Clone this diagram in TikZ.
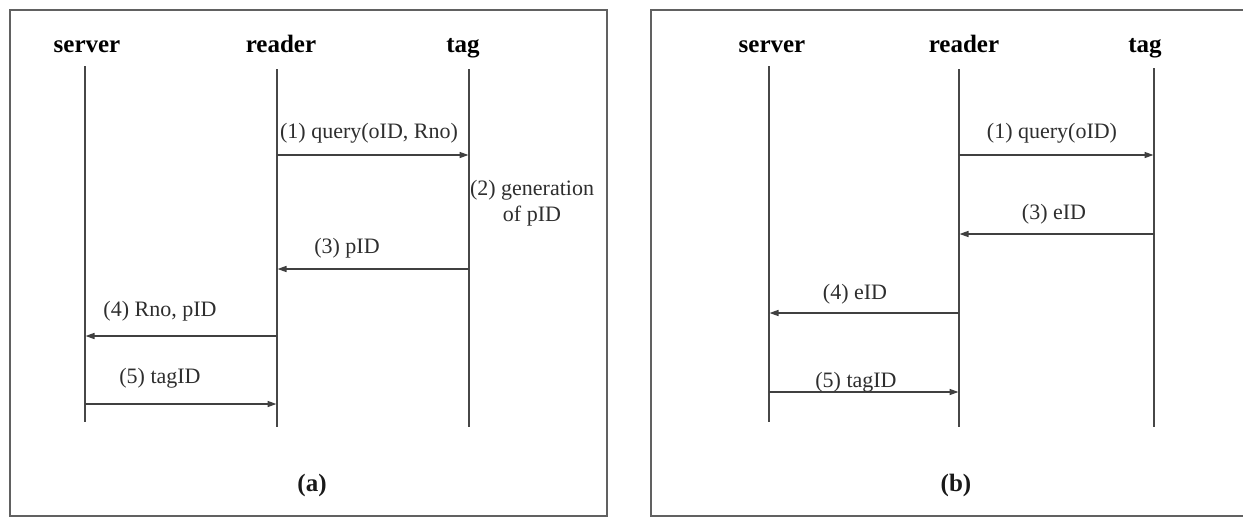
\documentclass[tikz,border=0pt]{standalone}
\usepackage{fontspec}
\setmainfont{Liberation Serif}
\usetikzlibrary{arrows.meta}
\begin{document}
\begin{tikzpicture}[x=1pt,y=-1pt,
  frameline/.style={draw=black!62, line width=2pt},
  lifeline/.style={draw=black!72, line width=1.5pt},
  msg/.style={draw=black!75, line width=1.5pt, -{Triangle[length=9pt,width=6pt]}, shorten >=0.5pt},
  head/.style={font=\fontsize{25}{28}\selectfont\bfseries, anchor=base, inner sep=0pt, text=black},
  lbl/.style={font=\fontsize{22}{25}\selectfont, anchor=base, inner sep=0pt, text=black!82},
  panelcap/.style={font=\fontsize{25}{28}\selectfont\bfseries, anchor=base, inner sep=0pt, text=black!90}]
\useasboundingbox (0,0) rectangle (1243,517);
\fill[white] (0,0) rectangle (1243,517);

% frames
\draw[frameline] (9.5,9.5) rectangle (607,516);
\draw[frameline] (1260,10) -- (651,10) -- (651,516) -- (1260,516);

% ---------- panel (a) ----------
\node[head] (aS) at (87,52) {server};
\node[head] (aR) at (281,52) {reader};
\node[head] (aT) at (463,52) {tag};
\coordinate (aSt) at (85,66);  \coordinate (aSb) at (85,422);
\coordinate (aRt) at (277,69); \coordinate (aRb) at (277,427);
\coordinate (aTt) at (469,69); \coordinate (aTb) at (469,427);
\draw[lifeline] (aSt) -- (aSb);
\draw[lifeline] (aRt) -- (aRb);
\draw[lifeline] (aTt) -- (aTb);

\coordinate (a1r) at (277,155); \coordinate (a1t) at (469,155);
\coordinate (a3t) at (469,269); \coordinate (a3r) at (277,269);
\coordinate (a4r) at (277,336); \coordinate (a4s) at (85,336);
\coordinate (a5s) at (85,404);  \coordinate (a5r) at (277,404);
\draw[msg] (a1r) -- (a1t);
\draw[msg] (a3t) -- (a3r);
\draw[msg] (a4r) -- (a4s);
\draw[msg] (a5s) -- (a5r);

\node[lbl] (aL1) at (369,138) {(1) query(oID, Rno)};
\node[lbl] (aL2a) at (532,195) {(2) generation};
\node[lbl] (aL2b) at (532,221) {of pID};
\node[lbl] (aL3) at (347,253) {(3) pID};
\node[lbl] (aL4) at (160,316) {(4) Rno, pID};
\node[lbl] (aL5) at (160,383) {(5) tagID};
\node[panelcap] (capA) at (312,491) {(a)};

% ---------- panel (b) ----------
\node[head] (bS) at (772,52) {server};
\node[head] (bR) at (964,52) {reader};
\node[head] (bT) at (1145,52) {tag};
\coordinate (bSt) at (769,66);  \coordinate (bSb) at (769,422);
\coordinate (bRt) at (959,69);  \coordinate (bRb) at (959,427);
\coordinate (bTt) at (1154,68); \coordinate (bTb) at (1154,427);
\draw[lifeline] (bSt) -- (bSb);
\draw[lifeline] (bRt) -- (bRb);
\draw[lifeline] (bTt) -- (bTb);

\coordinate (b1r) at (959,155);  \coordinate (b1t) at (1154,155);
\coordinate (b3t) at (1154,234); \coordinate (b3r) at (959,234);
\coordinate (b4r) at (959,313);  \coordinate (b4s) at (769,313);
\coordinate (b5s) at (769,392);  \coordinate (b5r) at (959,392);
\draw[msg] (b1r) -- (b1t);
\draw[msg] (b3t) -- (b3r);
\draw[msg] (b4r) -- (b4s);
\draw[msg] (b5s) -- (b5r);

\node[lbl] (bL1) at (1052,138) {(1) query(oID)};
\node[lbl] (bL3) at (1054,219) {(3) eID};
\node[lbl] (bL4) at (855,299) {(4) eID};
\node[lbl] (bL5) at (856,387) {(5) tagID};
\node[panelcap] (capB) at (956,491) {(b)};
\end{tikzpicture}
\end{document}
